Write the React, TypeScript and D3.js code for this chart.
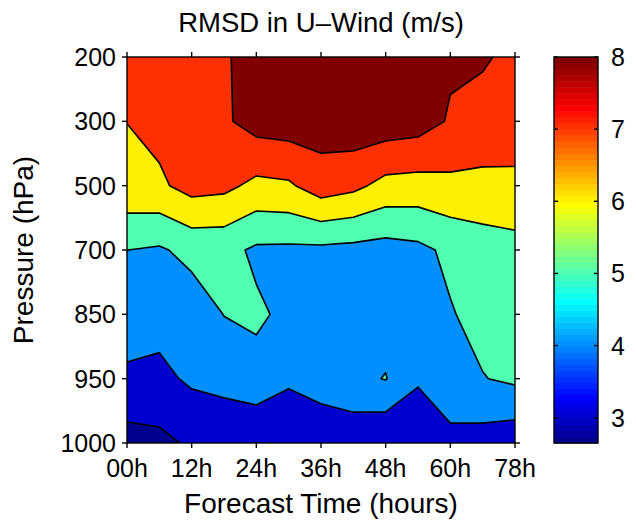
import React from 'react';
import * as d3 from 'd3';

// Forecast steps (columns) and pressure levels (rows)
const forecastSteps = [0, 6, 12, 18, 24, 30, 36, 42, 48, 54, 60, 66, 72];
const pressureLevels = [200, 300, 500, 700, 850, 950, 1000];
const xTickLabels = ['00h', '12h', '24h', '36h', '48h', '60h', '78h'];
const contourLevels = [3, 4, 5, 6, 7, 8];
const colorbarTicks = [3, 4, 5, 6, 7, 8];
const colorLimits = [2.65, 8];

// RMSD values (m/s), one array per pressure level, one value per forecast step
const rmsd200 = [7.5, 7.6, 7.7, 7.9, 8.35, 8.6, 8.6, 8.7, 8.7, 8.6, 8.14, 8.06, 7.87];
const rmsd300 = [7.01, 7.31, 7.6, 7.85, 8.4, 8.5, 8.47, 8.64, 8.58, 8.45, 7.9, 7.8, 7.7];
const rmsd500 = [6.74, 6.83, 7.365, 7.25, 6.75, 6.86, 7.52, 7.25, 6.68, 6.61, 6.76, 6.67, 6.7];
const rmsd700 = [5.005, 4.88, 5.29, 5.3, 4.84, 4.81, 4.79, 4.71, 4.61, 4.76, 5.21, 5.55, 5.69];
const rmsd850 = [4.86, 4.36, 4.44, 5.02, 5.14, 4.81, 4.65, 4.65, 4.6, 4.7, 4.93, 5.32, 5.45];
const rmsd950 = [3.7, 3.755, 4.16, 4.34, 4.7, 4.13, 4.45, 4.76, 5.04, 4.12, 4.67, 4.96, 5.185];
const rmsd1000 = [2.66, 2.75, 3.15, 3.2, 2.99, 3.3, 3.3, 3.3, 3.03, 3.2, 3.7, 3.57, 3.33];

const rows = [rmsd200, rmsd300, rmsd500, rmsd700, rmsd850, rmsd950, rmsd1000];

// MATLAB-style jet(64)
function jetRow(r: number): string {
  const u = (j: number) => (j < 1 || j > 47 ? 0 : j <= 16 ? j / 16 : j <= 31 ? 1 : (48 - j) / 16);
  return d3.rgb(u(r - 24) * 255, u(r - 8) * 255, u(r + 8) * 255).formatHex();
}
function valueColor(v: number): string {
  const [lo, hi] = colorLimits;
  let r = Math.floor(((v - lo) / (hi - lo)) * 64) + 1;
  r = Math.max(1, Math.min(64, r));
  return jetRow(r);
}

const W = 636;
const H = 523;
const plot = { left: 127, right: 515, top: 57, bottom: 443 };
const cbar = { left: 554, right: 598 };
const font = '"Liberation Sans", Arial, Helvetica, sans-serif';

export default function App() {
  const nx = forecastSteps.length;
  const ny = pressureLevels.length;
  const xs = d3.scaleLinear().domain([0, nx - 1]).range([plot.left, plot.right]);
  const ys = d3.scaleLinear().domain([0, ny - 1]).range([plot.top, plot.bottom]);
  const values = rows.flat();
  const contours = d3.contours().size([nx, ny]).thresholds(contourLevels)(values);
  const path = d3.geoPath(
    d3.geoTransform({
      point(x: number, y: number) {
        (this as any).stream.point(xs(x - 0.5), ys(y - 0.5));
      },
    })
  );
  const minVal = d3.min(values) as number;

  const cScale = d3.scaleLinear().domain(colorLimits).range([plot.bottom, plot.top]);
  const cbarSteps = d3.range(64);
  const stepH = (plot.bottom - plot.top) / 64;

  const xTickIdx = xTickLabels.map((_, i) => i * 2);
  const tickLen = 5;

  return (
    <svg width={W} height={H} style={{ position: 'absolute', left: 0, top: 0, background: '#fff' }}>
      <defs>
        <clipPath id="plotClip">
          <rect x={plot.left} y={plot.top} width={plot.right - plot.left} height={plot.bottom - plot.top} />
        </clipPath>
      </defs>
      <rect x={0} y={0} width={W} height={H} fill="#fff" />
      <g clipPath="url(#plotClip)">
        <rect
          x={plot.left}
          y={plot.top}
          width={plot.right - plot.left}
          height={plot.bottom - plot.top}
          fill={valueColor(minVal)}
        />
        {contours.map((c, i) => (
          <path
            key={i}
            d={path(c as any) || ''}
            fill={valueColor(c.value)}
            stroke="#000"
            strokeWidth={1.6}
            strokeLinejoin="round"
          />
        ))}
      </g>
      {/* frame */}
      <rect
        x={plot.left}
        y={plot.top}
        width={plot.right - plot.left}
        height={plot.bottom - plot.top}
        fill="none"
        stroke="#000"
        strokeWidth={1.4}
      />
      {/* x ticks */}
      {xTickIdx.map((c, i) => (
        <g key={'xt' + i}>
          <line x1={xs(c)} x2={xs(c)} y1={plot.bottom} y2={plot.bottom + tickLen} stroke="#000" strokeWidth={1.4} />
          <line x1={xs(c)} x2={xs(c)} y1={plot.top} y2={plot.top - tickLen} stroke="#000" strokeWidth={1.4} />
          <text x={xs(c)} y={477} fontFamily={font} fontSize={25} textAnchor="middle" fill="#000">
            {xTickLabels[i]}
          </text>
        </g>
      ))}
      {/* y ticks */}
      {pressureLevels.map((p, j) => (
        <g key={'yt' + j}>
          <line x1={plot.left - tickLen} x2={plot.left} y1={ys(j)} y2={ys(j)} stroke="#000" strokeWidth={1.4} />
          <line x1={plot.right} x2={plot.right + tickLen} y1={ys(j)} y2={ys(j)} stroke="#000" strokeWidth={1.4} />
          <text x={116} y={ys(j)} dy="0.36em" fontFamily={font} fontSize={25} textAnchor="end" fill="#000">
            {p}
          </text>
        </g>
      ))}
      {/* title and labels */}
      <text x={(plot.left + plot.right) / 2} y={32} fontFamily={font} fontSize={27.5} textAnchor="middle" fill="#000">
        RMSD in U–Wind (m/s)
      </text>
      <text x={(plot.left + plot.right) / 2} y={513} fontFamily={font} fontSize={28} textAnchor="middle" fill="#000">
        Forecast Time (hours)
      </text>
      <text
        transform={`translate(33, ${(plot.top + plot.bottom) / 2}) rotate(-90)`}
        fontFamily={font}
        fontSize={28}
        textAnchor="middle"
        fill="#000"
      >
        Pressure (hPa)
      </text>
      {/* colorbar */}
      {cbarSteps.map((i) => (
        <rect
          key={'cb' + i}
          x={cbar.left}
          y={plot.bottom - (i + 1) * stepH}
          width={cbar.right - cbar.left}
          height={stepH + 0.5}
          fill={jetRow(i + 1)}
        />
      ))}
      <rect
        x={cbar.left}
        y={plot.top}
        width={cbar.right - cbar.left}
        height={plot.bottom - plot.top}
        fill="none"
        stroke="#000"
        strokeWidth={1.4}
      />
      {colorbarTicks.map((t) => (
        <g key={'ct' + t}>
          <line x1={cbar.left} x2={cbar.left + 4} y1={cScale(t)} y2={cScale(t)} stroke="#000" strokeWidth={1.4} />
          <line x1={cbar.right - 4} x2={cbar.right} y1={cScale(t)} y2={cScale(t)} stroke="#000" strokeWidth={1.4} />
          <text x={cbar.right + 13} y={cScale(t)} dy="0.36em" fontFamily={font} fontSize={25} textAnchor="start" fill="#000">
            {t}
          </text>
        </g>
      ))}
    </svg>
  );
}
